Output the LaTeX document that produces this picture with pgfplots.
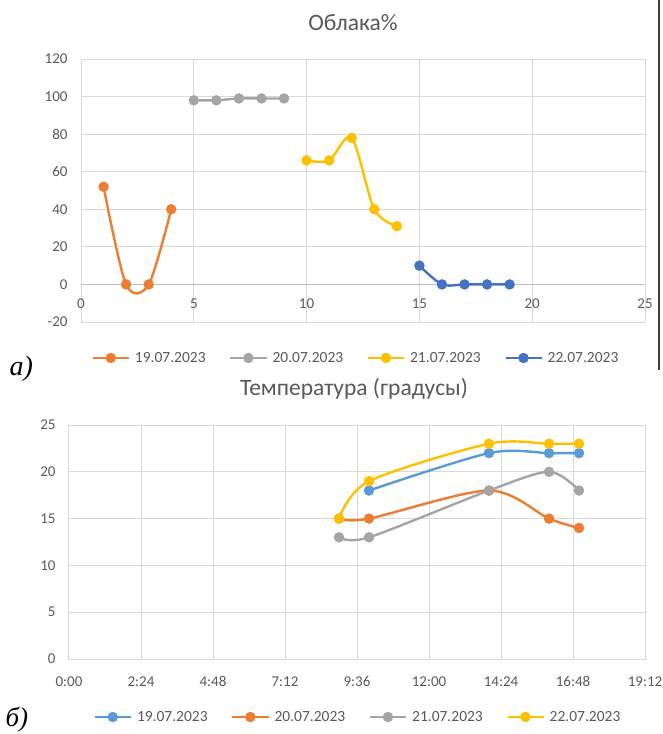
\documentclass[border=0pt]{standalone}
\usepackage{pgfplots}
\pgfplotsset{compat=1.18}
\usepackage{fontspec}
\setmainfont{Carlito}
\newfontfamily\labfont{Liberation Serif}
\definecolor{cOr}{HTML}{ED7D31}
\definecolor{cGr}{HTML}{A5A5A5}
\definecolor{cYe}{HTML}{FFC000}
\definecolor{cBl}{HTML}{4472C4}
\definecolor{cLb}{HTML}{5B9BD5}
\definecolor{txt}{HTML}{595959}
\definecolor{gridc}{HTML}{D9D9D9}
\definecolor{zeroc}{HTML}{BFBFBF}
\definecolor{pagel}{HTML}{3C3C4A}
\pgfplotsset{
  ex/.style={
    scale only axis,
    enlargelimits=false,
    grid=major,
    major grid style={draw=gridc, line width=1pt},
    axis line style={draw=gridc, line width=1pt},
    major tick length=0pt,
    tick style={draw=none},
    ticklabel style={font=\fontsize{15}{18}\selectfont, text=txt},
    yticklabel style={xshift=-10pt},
    /pgf/number format/assume math mode=true,
    legend columns=4,
    legend style={draw=none, fill=none, font=\fontsize{15.5}{18}\selectfont, text=txt,
      anchor=center, nodes={inner sep=0pt},
      /tikz/every odd column/.append style={column sep=5pt},
      /tikz/every even column/.append style={column sep=23.5pt}},
    legend image code/.code={\draw[mark repeat=2,mark phase=2,##1] plot coordinates {(0pt,0pt)(18pt,0pt)(36pt,0pt)};},
    every axis plot/.append style={line width=2.4pt, mark=*, mark size=4.7pt, smooth, mark options={line width=1pt}},
  }
}
\begin{document}
\begin{tikzpicture}[x=1pt,y=1pt]
\path[use as bounding box] (0,0) rectangle (663,-734);
% page line
\draw[pagel, line width=2pt] (659,0) -- (659,-370);
% top chart
\node[font=\fontsize{23.5}{28}\selectfont, text=txt] at (353,-23) {Облака\%};
\begin{axis}[ex,
  at={(81pt,-322pt)}, anchor=south west, width=564pt, height=263pt,
  xmin=0, xmax=25, ymin=-20, ymax=120,
  xtick={0,5,10,15,20,25}, ytick={-20,0,20,40,60,80,100,120},
  axis x line=middle, axis y line=left,
  hide obscured x ticks=false,
  x axis line style={-, draw=zeroc, line width=1.5pt},
  y axis line style={-, draw=gridc, line width=1pt},
  xticklabel style={yshift=-11pt},
  legend style={at={(0.4858,-0.1369)}},
]
\addplot[cOr] coordinates {(1,52)(2,0)(3,0)(4,40)};
\addlegendentry{19.07.2023}
\addplot[cGr] coordinates {(5,98)(6,98)(7,99)(8,99)(9,99)};
\addlegendentry{20.07.2023}
\addplot[cYe] coordinates {(10,66)(11,66)(12,78)(13,40)(14,31)};
\addlegendentry{21.07.2023}
\addplot[cBl] coordinates {(15,10)(16,0)(17,0)(18,0)(19,0)};
\addlegendentry{22.07.2023}
\end{axis}
\node[anchor=base west, font=\fontsize{28}{32}\selectfont\labfont\itshape, text=black] at (6,-375) {а)};
% bottom chart
\node[font=\fontsize{23.5}{28}\selectfont, text=txt] at (354,-389) {Температура (градусы)};
\begin{axis}[ex,
  at={(69pt,-659pt)}, anchor=south west, width=576pt, height=234pt,
  xmin=0, xmax=19.2, ymin=0, ymax=25,
  xtick={0,2.4,4.8,7.2,9.6,12,14.4,16.8,19.2},
  xticklabels={0:00,2:24,4:48,7:12,9:36,12:00,14:24,16:48,19:12},
  ytick={0,5,10,15,20,25},
  xticklabel style={yshift=-14pt},
  legend style={at={(0.5,-0.2479)}},
]
\addplot[cLb] coordinates {(10,18)(14,22)(16,22)(17,22)};
\addlegendentry{19.07.2023}
\addplot[cOr] coordinates {(9,15)(10,15)(14,18)(16,15)(17,14)};
\addlegendentry{20.07.2023}
\addplot[cGr] coordinates {(9,13)(10,13)(14,18)(16,20)(17,18)};
\addlegendentry{21.07.2023}
\addplot[cYe] coordinates {(9,15)(10,19)(14,23)(16,23)(17,23)};
\addlegendentry{22.07.2023}
\end{axis}
\node[anchor=base west, font=\fontsize{27}{32}\selectfont\labfont\itshape, text=black] at (2,-726) {б)};
\end{tikzpicture}
\end{document}
